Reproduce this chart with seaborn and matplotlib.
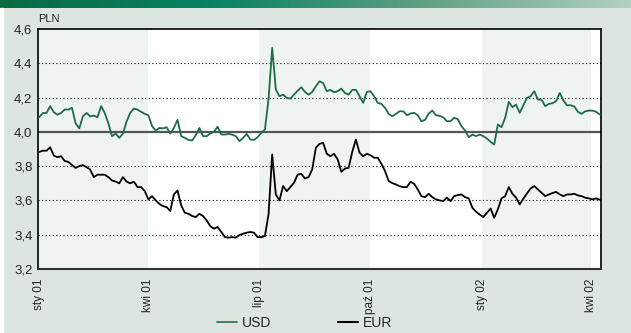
import numpy as np
import pandas as pd
import matplotlib
matplotlib.use("Agg")
import matplotlib.pyplot as plt
from matplotlib.colors import LinearSegmentedColormap
from matplotlib.lines import Line2D
from matplotlib.patches import Rectangle
import seaborn as sns

# kursy PLN, co 3 dni od 1 stycznia 2001
start_date = "2001-01-01"
usd = [
    4.085, 4.11, 4.11, 4.15, 4.115, 4.10, 4.11, 4.13, 4.13, 4.14, 4.05, 4.02, 4.09,
    4.11, 4.09, 4.095, 4.085, 4.15, 4.11, 4.05, 3.975, 3.99, 3.965, 3.99, 4.06, 4.11,
    4.136, 4.13, 4.117, 4.105, 4.097, 4.033, 4.008, 4.023, 4.02, 4.027, 3.99, 4.023, 4.07,
    3.975, 3.965, 3.953, 3.95, 3.98, 4.023, 3.975, 3.975, 3.99, 4.0, 4.03, 3.985,
    3.984, 3.988, 3.984, 3.975, 3.946, 3.965, 3.988, 3.955, 3.953, 3.969, 3.994, 4.014, 4.19,
    4.49, 4.247, 4.208, 4.217, 4.198, 4.194, 4.217, 4.24, 4.26, 4.233, 4.217, 4.233, 4.266,
    4.295, 4.285, 4.237, 4.245, 4.231, 4.237, 4.252, 4.227, 4.217, 4.245, 4.245, 4.208, 4.169,
    4.233, 4.237, 4.208, 4.169, 4.163, 4.14, 4.105, 4.091, 4.105, 4.12, 4.12, 4.097,
    4.107, 4.111, 4.097, 4.062, 4.07, 4.107, 4.124, 4.097, 4.093, 4.085, 4.062, 4.062, 4.082,
    4.074, 4.033, 4.008, 3.969, 3.984, 3.975, 3.984, 3.975, 3.961, 3.942, 3.926, 4.043,
    4.027, 4.082, 4.175, 4.144, 4.159, 4.111, 4.155, 4.198, 4.208, 4.237, 4.188, 4.188, 4.15,
    4.163, 4.167, 4.179, 4.227, 4.183, 4.155, 4.155, 4.148, 4.117, 4.105, 4.12, 4.124, 4.124,
    4.117, 4.101,
]
eur = [
    3.883, 3.89, 3.89, 3.91, 3.862, 3.852, 3.858, 3.83, 3.825, 3.806, 3.79, 3.80, 3.806,
    3.794, 3.78, 3.736, 3.75, 3.75, 3.75, 3.736, 3.716, 3.71, 3.70, 3.736, 3.71, 3.70,
    3.709, 3.678, 3.678, 3.654, 3.606, 3.625, 3.60, 3.58, 3.567, 3.561, 3.538, 3.635, 3.658,
    3.571, 3.528, 3.522, 3.509, 3.503, 3.522, 3.509, 3.483, 3.45, 3.435, 3.445, 3.417,
    3.386, 3.383, 3.386, 3.383, 3.398, 3.406, 3.412, 3.416, 3.412, 3.386, 3.386, 3.392, 3.518,
    3.868, 3.635, 3.60, 3.684, 3.654, 3.678, 3.703, 3.751, 3.755, 3.728, 3.736, 3.781, 3.907,
    3.93, 3.936, 3.872, 3.858, 3.872, 3.839, 3.767, 3.786, 3.79, 3.883, 3.955, 3.878, 3.858,
    3.872, 3.864, 3.849, 3.849, 3.814, 3.771, 3.713, 3.701, 3.693, 3.683, 3.678, 3.678,
    3.709, 3.697, 3.664, 3.625, 3.619, 3.639, 3.619, 3.606, 3.60, 3.596, 3.616, 3.596, 3.625,
    3.631, 3.635, 3.619, 3.612, 3.557, 3.534, 3.518, 3.503, 3.528, 3.553, 3.499, 3.548,
    3.612, 3.625, 3.678, 3.639, 3.616, 3.577, 3.61, 3.641, 3.67, 3.684, 3.664, 3.645, 3.625,
    3.635, 3.643, 3.65, 3.635, 3.625, 3.635, 3.635, 3.639, 3.629, 3.625, 3.616, 3.612, 3.606,
    3.612, 3.604,
]

quarter_starts = ["2001-01-01", "2001-04-01", "2001-07-01", "2001-10-01", "2002-01-01", "2002-04-01"]
quarter_labels = ["sty 01", "kwi 01", "lip 01", "paź 01", "sty 02", "kwi 02"]
shaded = [("2001-01-01", "2001-04-01"), ("2001-07-01", "2001-10-01"), ("2002-01-01", "2002-04-01")]
y_ticks = [3.2, 3.4, 3.6, 3.8, 4.0, 4.2, 4.4, 4.6]

dates = pd.date_range(start_date, periods=len(usd), freq="3D")
df = pd.concat([
    pd.DataFrame({"data": dates, "kurs": usd, "waluta": "USD"}),
    pd.DataFrame({"data": dates, "kurs": eur, "waluta": "EUR"}),
])

sns.set_style("white")
plt.rcParams["font.family"] = ["Liberation Sans", "DejaVu Sans"]

bg = "#dce5e0"
green = "#1f6b47"
fig = plt.figure(figsize=(6.31, 3.33), dpi=100, facecolor=bg)

# pasek z gradientem na gorze
band = fig.add_axes([0, 1 - 8 / 333, 1, 8 / 333])
cmap = LinearSegmentedColormap.from_list("band", ["#0b6a42", "#078262", "#5f9f82", "#b2d1c1"])
band.imshow(np.linspace(0, 1, 256)[None, :], aspect="auto", cmap=cmap)
band.axis("off")
fig.patches.append(Rectangle((0, 0), 3 / 631, 1 - 8 / 333, transform=fig.transFigure,
                             color="white", zorder=0))

ax = fig.add_axes([38 / 631, 1 - 269 / 333, 563 / 631, 240 / 333])
ax.set_facecolor("white")
for a, b in shaded:
    ax.axvspan(pd.Timestamp(a), pd.Timestamp(b), color="#eff3f1", lw=0, zorder=0)

for y in y_ticks[1:-1]:
    if y == 4.0:
        ax.axhline(y, color="#555555", lw=1.6, zorder=1)
    else:
        ax.axhline(y, color="black", lw=0.8, ls=(0, (1, 2.2)), zorder=1)

sns.lineplot(data=df, x="data", y="kurs", hue="waluta",
             palette={"USD": green, "EUR": "black"}, linewidth=1.3,
             legend=False, ax=ax, zorder=3)

ax.set_xlim(pd.Timestamp("2000-12-31"), pd.Timestamp("2002-04-09"))
ax.set_ylim(3.2, 4.6)
ax.set_yticks(y_ticks)
ax.set_yticklabels([f"{v:.1f}".replace(".", ",") for v in y_ticks], fontsize=9.5)
ax.tick_params(axis="y", length=0, pad=4)

month_ticks = pd.date_range("2001-01-01", "2002-04-01", freq="MS")
ax.set_xticks(month_ticks)
ax.set_xticklabels([quarter_labels[quarter_starts.index(d.strftime("%Y-%m-%d"))]
                    if d.strftime("%Y-%m-%d") in quarter_starts else "" for d in month_ticks],
                   rotation=90, fontsize=8.5)
ax.tick_params(axis="x", length=4, width=1, direction="out", pad=3)
ax.set_xlabel("")
ax.set_ylabel("")

for side in ["left", "right", "top"]:
    ax.spines[side].set_color("black")
    ax.spines[side].set_linewidth(1.2)
ax.spines["bottom"].set_color("#333333")
ax.spines["bottom"].set_linewidth(1.5)

ax.text(0.0, 1.02, "PLN", transform=ax.transAxes, fontsize=8, ha="left", va="bottom")

handles = [Line2D([], [], color="#2e7d55", lw=1.3), Line2D([], [], color="black", lw=1.5)]
fig.legend(handles, ["USD", "EUR"], loc="center", bbox_to_anchor=(0.483, 0.03), ncol=2,
           frameon=False, fontsize=10, handlelength=1.4, handletextpad=0.4, columnspacing=4.8)

fig.savefig("out.png", dpi=100, facecolor=bg)
